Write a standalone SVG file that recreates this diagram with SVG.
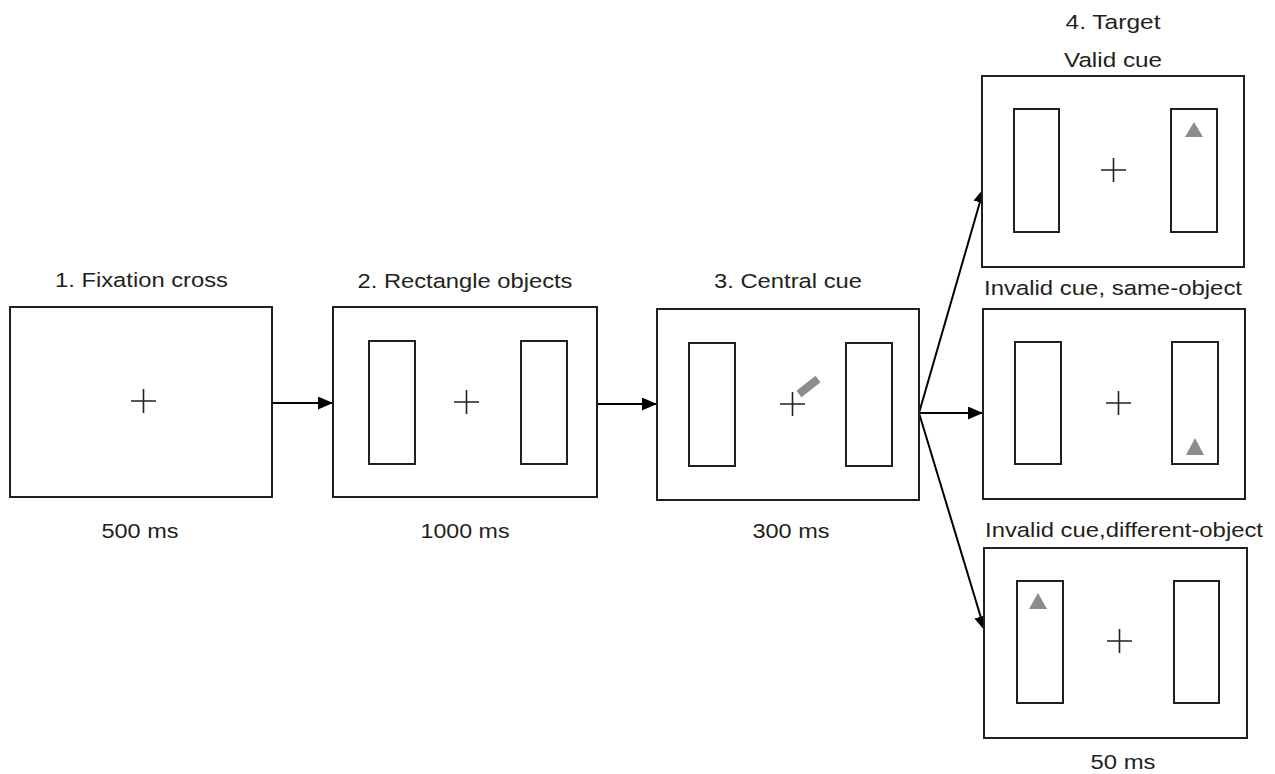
<svg xmlns="http://www.w3.org/2000/svg" width="1275" height="774" viewBox="0 0 1275 774">
<defs>
<style>
.frame{fill:#fff;stroke:#231f20;stroke-width:2}
.obj{fill:none;stroke:#231f20;stroke-width:2}
.cross{stroke:#231f20;stroke-width:1.6;fill:none}
.tri{fill:#8c8c8c}
.lbl{font-family:"Liberation Sans",Arial,sans-serif;font-size:20.5px;fill:#231f20;text-anchor:middle}
.conn{stroke:#000;stroke-width:2;fill:none}
</style>
<marker id="ah" markerUnits="userSpaceOnUse" markerWidth="15" markerHeight="13" refX="15" refY="6.5" orient="auto">
<path d="M0,0 L15,6.5 L0,13 z" fill="#000"/>
</marker>
</defs>
<rect width="1275" height="774" fill="#fff"/>

<g id="connectors">
<line class="conn" x1="272" y1="403" x2="333" y2="403" marker-end="url(#ah)"/>
<line class="conn" x1="597" y1="404" x2="657" y2="404" marker-end="url(#ah)"/>
<line class="conn" x1="919" y1="413" x2="984" y2="188" marker-end="url(#ah)"/>
<line class="conn" x1="919" y1="413" x2="983" y2="413" marker-end="url(#ah)"/>
<line class="conn" x1="919" y1="413" x2="985" y2="631" marker-end="url(#ah)"/>
</g>

<g id="node1">
<text class="lbl" x="141.5" y="287" textLength="173" lengthAdjust="spacingAndGlyphs">1. Fixation cross</text>
<rect class="frame" x="10" y="307" width="262" height="190"/>
<path class="cross" d="M131,401 H156 M143.5,389 V413"/>
<text class="lbl" x="140" y="538" textLength="77" lengthAdjust="spacingAndGlyphs">500 ms</text>
</g>

<g id="node2">
<text class="lbl" x="465" y="288" textLength="215" lengthAdjust="spacingAndGlyphs">2. Rectangle objects</text>
<rect class="frame" x="333" y="307" width="264" height="190"/>
<rect class="obj" x="369" y="341" width="46" height="123"/>
<rect class="obj" x="521" y="341" width="46" height="123"/>
<path class="cross" d="M454,402 H479 M466.5,390 V414"/>
<text class="lbl" x="465" y="538" textLength="89" lengthAdjust="spacingAndGlyphs">1000 ms</text>
</g>

<g id="node3">
<text class="lbl" x="788" y="288" textLength="148" lengthAdjust="spacingAndGlyphs">3. Central cue</text>
<rect class="frame" x="657" y="309" width="262" height="191"/>
<rect class="obj" x="689" y="343" width="46" height="123"/>
<rect class="obj" x="846" y="343" width="46" height="123"/>
<path class="cross" d="M780,404 H805 M792.5,392 V416"/>
<line x1="799" y1="394" x2="818" y2="379" stroke="#8c8c8c" stroke-width="8"/>
<text class="lbl" x="791" y="538" textLength="77" lengthAdjust="spacingAndGlyphs">300 ms</text>
</g>

<g id="node4a">
<text class="lbl" x="1113" y="29" textLength="95" lengthAdjust="spacingAndGlyphs">4. Target</text>
<text class="lbl" x="1113" y="67" textLength="98" lengthAdjust="spacingAndGlyphs">Valid cue</text>
<rect class="frame" x="982" y="76" width="262" height="191"/>
<rect class="obj" x="1014" y="109" width="45" height="123"/>
<rect class="obj" x="1171" y="109" width="46" height="123"/>
<path class="cross" d="M1101,170 H1126 M1113.5,158 V182"/>
<polygon class="tri" points="1194,122 1203,137 1185,137"/>
</g>

<g id="node4b">
<text class="lbl" x="1113" y="295" textLength="258" lengthAdjust="spacingAndGlyphs">Invalid cue, same-object</text>
<rect class="frame" x="983" y="309" width="262" height="190"/>
<rect class="obj" x="1015" y="342" width="46" height="122"/>
<rect class="obj" x="1172" y="342" width="46" height="122"/>
<path class="cross" d="M1106,403 H1131 M1118.5,391 V415"/>
<polygon class="tri" points="1195,438 1204,455 1186,455"/>
</g>

<g id="node4c">
<text class="lbl" x="1124" y="537" textLength="278" lengthAdjust="spacingAndGlyphs">Invalid cue,different-object</text>
<rect class="frame" x="984" y="548" width="263" height="190"/>
<rect class="obj" x="1017" y="581" width="46" height="122"/>
<rect class="obj" x="1174" y="581" width="45" height="122"/>
<path class="cross" d="M1107,641 H1132 M1119.5,629 V653"/>
<polygon class="tri" points="1038,593 1047,609 1029,609"/>
<text class="lbl" x="1123" y="769" textLength="65" lengthAdjust="spacingAndGlyphs">50 ms</text>
</g>
</svg>
